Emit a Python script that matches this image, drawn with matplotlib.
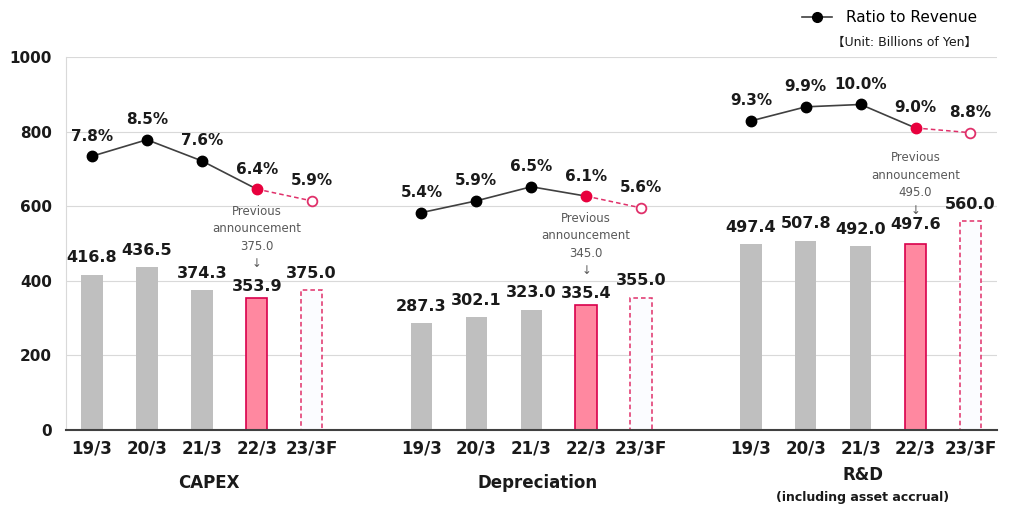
"""CAPEX, depreciation and R&D by fiscal year, with ratio to revenue."""

import matplotlib.pyplot as plt
import numpy as np
from matplotlib.lines import Line2D

years = ["19/3", "20/3", "21/3", "22/3", "23/3F"]
groups = ["CAPEX", "Depreciation", "R&D"]

capex = [416.8, 436.5, 374.3, 353.9, 375.0]
depreciation = [287.3, 302.1, 323.0, 335.4, 355.0]
rnd = [497.4, 507.8, 492.0, 497.6, 560.0]

capex_ratio = [7.8, 8.5, 7.6, 6.4, 5.9]
depreciation_ratio = [5.4, 5.9, 6.5, 6.1, 5.6]
rnd_ratio = [9.3, 9.9, 10.0, 9.0, 8.8]

previous = [375.0, 345.0, 495.0]

values = [capex, depreciation, rnd]
ratios = [capex_ratio, depreciation_ratio, rnd_ratio]

grey = "#bfbfbf"
pink = "#ff88a0"
crimson = "#d9004c"
dash_pink = "#e0306a"
text_dark = "#1a1a1a"
note_grey = "#595959"

fig = plt.figure(figsize=(10.11, 5.14), dpi=100)
ax = fig.add_axes([0.0653, 0.1634, 0.9207, 0.7257])
ax2 = ax.twinx()

width = 0.39
for g, (vals, rat) in enumerate(zip(values, ratios)):
    x = np.arange(5) + 6 * g
    # actual years
    ax.bar(x[:3], vals[:3], width, color=grey, zorder=2)
    ax.bar(x[3], vals[3], width, color=pink, edgecolor=crimson, linewidth=1.2, zorder=2)
    ax.bar(x[4], vals[4], width, color="#fbfcff", edgecolor=dash_pink,
           linewidth=1.1, linestyle=(0, (3, 2)), zorder=2)

    for i in range(5):
        if i == 3:
            off = 8 if g < 2 else 14
        else:
            off = 12
        ax.annotate(f"{vals[i]:.1f}", (x[i], vals[i]), xytext=(0, off),
                    textcoords="offset points", ha="center", va="center",
                    fontsize=11.5, fontweight="bold", color=text_dark, zorder=5)

    ax.annotate(f"Previous\nannouncement\n{previous[g]:.1f}\n\u2193",
                (x[3], vals[3]), xytext=(0, 20), textcoords="offset points",
                ha="center", va="bottom", fontsize=8.5, color=note_grey,
                linespacing=1.45, zorder=5)

    # ratio line on the hidden secondary scale
    ax2.plot(x[:4], rat[:4], color="#404040", lw=1.2, zorder=3)
    ax2.plot(x[3:], rat[3:], color=dash_pink, lw=1.1, ls=(0, (3, 2)), zorder=3)
    ax2.plot(x[:3], rat[:3], "o", color="black", ms=7.5, zorder=4)
    ax2.plot(x[3], rat[3], "o", color="#e8003d", ms=7.5, zorder=4)
    ax2.plot(x[4], rat[4], "o", mfc="white", mec=dash_pink, mew=1.3, ms=7, zorder=4)
    for i in range(5):
        ax2.annotate(f"{rat[i]:.1f}%", (x[i], rat[i]), xytext=(0, 14.4),
                     textcoords="offset points", ha="center", va="center",
                     fontsize=11, fontweight="bold", color=text_dark)

ax.set_xlim(-0.474, 16.48)
ax.set_ylim(0, 1000)
ax2.set_ylim(-3.85, 12.02)
ax2.axis("off")

ticks = np.concatenate([np.arange(5) + 6 * g for g in range(3)])
ax.set_xticks(ticks, years * 3)
ax.set_yticks(np.arange(0, 1001, 200))
ax.tick_params(axis="x", length=0, pad=7, labelsize=12, labelcolor=text_dark)
ax.tick_params(axis="y", length=0, pad=10, labelsize=11, labelcolor=text_dark)
for lab in ax.get_xticklabels() + ax.get_yticklabels():
    lab.set_fontweight("bold")

ax.grid(axis="y", color="#d9d9d9", lw=0.8, zorder=0)
ax.set_axisbelow(True)
for s in ["top", "right"]:
    ax.spines[s].set_visible(False)
ax.spines["left"].set_color("#d9d9d9")
ax.spines["bottom"].set_color("#404040")
ax.spines["bottom"].set_linewidth(1.5)

# group names under the year labels
trans = ax.get_xaxis_transform()
ax.text(2.12, -0.142, groups[0], transform=trans, ha="center", va="center",
        fontsize=12, fontweight="bold", color=text_dark)
ax.text(8.12, -0.142, groups[1], transform=trans, ha="center", va="center",
        fontsize=12, fontweight="bold", color=text_dark)
ax.text(14.04, -0.121, groups[2], transform=trans, ha="center", va="center",
        fontsize=12, fontweight="bold", color=text_dark)
ax.text(14.04, -0.18, "(including asset accrual)", transform=trans, ha="center",
        va="center", fontsize=9, fontweight="bold", color=text_dark)

handle = Line2D([], [], color="#404040", lw=1.2, marker="o", mfc="black",
                mec="black", ms=7)
fig.legend([handle], ["Ratio to Revenue"], loc="center right",
           bbox_to_anchor=(977 / 1011, 1 - 18 / 514), frameon=False,
           fontsize=11, handlelength=2.0, handletextpad=0.9,
           borderpad=0, borderaxespad=0)
fig.text(977 / 1011, 1 - 42 / 514, "\u3010Unit: Billions of Yen\u3011",
         ha="right", va="center", fontsize=9, color=text_dark,
         family=["DejaVu Sans", "Noto Sans CJK JP"])

fig.savefig("out.png", dpi=100)
